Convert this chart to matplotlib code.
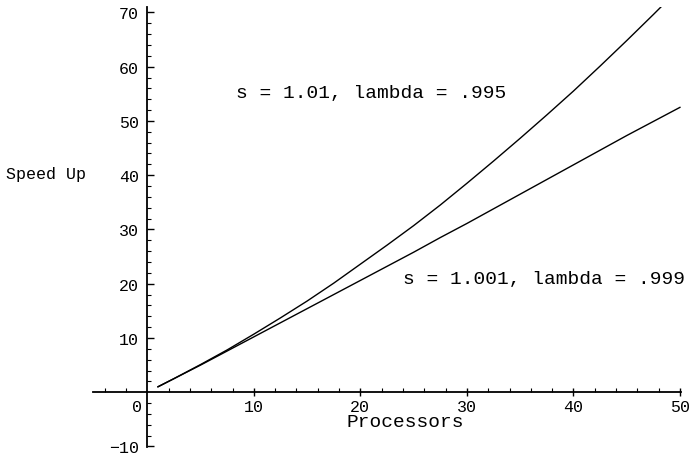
import matplotlib
matplotlib.use('Agg')
from matplotlib import pyplot as plt
from matplotlib.ticker import FixedLocator

plt.rcParams['font.family'] = ['Liberation Mono', 'DejaVu Sans Mono']

# processors vs speed up
processors = [1, 2.5, 5, 7.5, 10, 12.5, 15, 17.5, 20, 22.5, 25, 27.5, 30,
              32.5, 35, 37.5, 40, 42.5, 45, 47.5, 50]
speedup_995 = [1.0, 2.5, 5.1, 7.8, 10.7, 13.7, 16.8, 20.1, 23.6, 27.1, 30.7,
               34.5, 38.5, 42.6, 46.8, 51.1, 55.5, 60.1, 64.8, 69.6, 74.5]
speedup_999 = [1.0, 2.5, 5.0, 7.6, 10.2, 12.8, 15.4, 18.0, 20.6, 23.2, 25.8,
               28.5, 31.1, 33.8, 36.5, 39.2, 41.9, 44.6, 47.3, 49.9, 52.5]

x_ticks = [10, 20, 30, 40, 50]
y_ticks = [-10, 10, 20, 30, 40, 50, 60, 70]

fig = plt.figure(figsize=(6.92, 4.6), dpi=100)
ax = fig.add_axes([93 / 692, 1 - 448 / 460, (681 - 93) / 692, (448 - 8) / 460])

ax.plot(processors, speedup_995, color='black', lw=1.0)
ax.plot(processors, speedup_999, color='black', lw=1.0)

ax.set_xlim(-5.1, 50.1)
ax.set_ylim(-10.1, 71)

ax.spines['left'].set_position(('data', 0))
ax.spines['bottom'].set_position(('data', 0))
ax.spines['top'].set_visible(False)
ax.spines['right'].set_visible(False)
ax.spines['left'].set_linewidth(1.3)
ax.spines['bottom'].set_linewidth(1.3)

ax.xaxis.set_major_locator(FixedLocator(x_ticks))
ax.xaxis.set_minor_locator(FixedLocator([v for v in range(-4, 51, 2) if v % 10 != 0]))
ax.yaxis.set_major_locator(FixedLocator(y_ticks))
ax.yaxis.set_minor_locator(FixedLocator([v for v in range(-8, 71, 2) if v % 10 != 0]))

ax.tick_params(axis='x', which='major', direction='inout', length=6, width=1, labelsize=12, pad=2)
ax.tick_params(axis='x', which='minor', direction='in', length=3, width=0.8)
ax.tick_params(axis='y', which='major', direction='in', length=5, width=1, labelsize=12, pad=6)
ax.tick_params(axis='y', which='minor', direction='in', length=3, width=0.8)

ax.text(-1.0, -1.2, '0', fontsize=12, ha='center', va='top')

ax.text(8.3, 55.3, 's = 1.01, lambda = .995', fontsize=14, va='center')
ax.text(24.0, 21.0, 's = 1.001, lambda = .999', fontsize=14, va='center', clip_on=False)
ax.text(18.7, -5.4, 'Processors', fontsize=14, va='center')
ax.text(-13.3, 40.3, 'Speed Up', fontsize=12, va='center', clip_on=False)

fig.savefig('out.png', dpi=100)
